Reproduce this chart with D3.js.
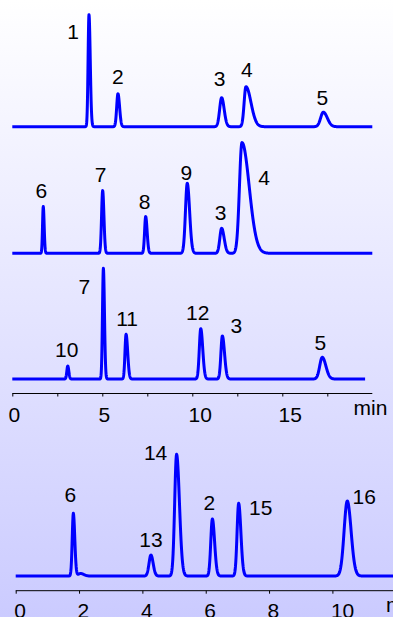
<!DOCTYPE html>
<html>
<head>
<meta charset="utf-8">
<script src="https://cdn.jsdelivr.net/npm/d3@7"></script>
<style>
  html, body { margin: 0; padding: 0; }
  body { width: 393px; height: 617px; overflow: hidden; }
  text { font-family: "Liberation Sans", Arial, sans-serif; fill: #000; }
</style>
</head>
<body>
<svg id="chart" width="393" height="617"></svg>
<script>
// peak tables: label, retention time (min), height (signal units), left/right width (min)
const peaks1Labels = ['1', '2', '3', '4', '5'];
const peaks1Times = [4.26, 5.87, 11.63, 12.98, 17.28];
const peaks1Heights = [112, 33, 29, 40, 14.5];
const peaks1WidthL = [0.05, 0.07, 0.11, 0.1, 0.15];
const peaks1WidthR = [0.07, 0.09, 0.14, 0.28, 0.22];

const peaks2Labels = ['6', '7', '8', '9', '3', '4'];
const peaks2Times = [1.72, 5.02, 7.41, 9.72, 11.63, 12.76];
const peaks2Heights = [46.7, 62.7, 36.7, 70, 25, 110.7];
const peaks2WidthL = [0.04, 0.06, 0.06, 0.1, 0.1, 0.14];
const peaks2WidthR = [0.05, 0.07, 0.08, 0.13, 0.14, 0.4];

const peaks3Labels = ['10', '7', '11', '12', '3', '5'];
const peaks3Times = [3.08, 5.06, 6.32, 10.47, 11.67, 17.22];
const peaks3Heights = [13, 110.7, 44.7, 50.3, 43, 21.7];
const peaks3WidthL = [0.05, 0.05, 0.06, 0.08, 0.08, 0.14];
const peaks3WidthR = [0.06, 0.06, 0.09, 0.11, 0.12, 0.2];

const peaks4Labels = ['6', '', '13', '14', '2', '15', '16'];
const peaks4Times = [1.82, 2.05, 4.27, 5.08, 6.21, 7.04, 10.47];
const peaks4Heights = [62.7, 2.5, 21, 121.7, 57, 72.7, 75];
const peaks4WidthL = [0.035, 0.08, 0.06, 0.06, 0.05, 0.05, 0.1];
const peaks4WidthR = [0.045, 0.1, 0.07, 0.09, 0.07, 0.07, 0.12];

const runEnd = [20, 20, 19.6, 12];           // length of each recorded trace (min)
const axisTop = { max: 20, ticks: [0, 2.5, 5, 7.5, 10, 12.5, 15, 17.5], labels: [0, 5, 10, 15] };
const axisBottom = { max: 12, ticks: [0, 2, 4, 6, 8, 10], labels: [0, 2, 4, 6, 8, 10] };

const svg = d3.select('#chart');

// background wash
const grad = svg.append('defs').append('linearGradient')
  .attr('id', 'bg').attr('x1', 0).attr('y1', 0).attr('x2', 0).attr('y2', 1);
grad.append('stop').attr('offset', 0).attr('stop-color', '#ffffff');
grad.append('stop').attr('offset', 1).attr('stop-color', '#cbcbff');
svg.append('rect').attr('width', 393).attr('height', 617).attr('fill', 'url(#bg)');

const xTop = d3.scaleLinear().domain([0, axisTop.max]).range([12.3, 372.3]);
const xBot = d3.scaleLinear().domain([0, 1]).range([15.7, 47.37]);

const buildPeaks = (labels, times, heights, wl, wr) => labels.map((label, i) => ({
  label, t: times[i], h: heights[i], sl: wl[i], sr: wr[i]
}));

const panels = [
  { peaks: buildPeaks(peaks1Labels, peaks1Times, peaks1Heights, peaks1WidthL, peaks1WidthR), x: xTop, base: 126.7, end: runEnd[0],
    offs: [[-16, 24], [0, -10], [-2, -12], [1, -10], [-1, -7]] },
  { peaks: buildPeaks(peaks2Labels, peaks2Times, peaks2Heights, peaks2WidthL, peaks2WidthR), x: xTop, base: 253.3, end: runEnd[1],
    offs: [[-2, -9], [-2, -9], [-1, -8], [-1, -3], [-1, -8], [22, 42]] },
  { peaks: buildPeaks(peaks3Labels, peaks3Times, peaks3Heights, peaks3WidthL, peaks3WidthR), x: xTop, base: 379, end: runEnd[2],
    offs: [[-1, -9], [-19, 26], [1, -8], [-3, -9], [14, -3.5], [-2, -7]] },
  { peaks: buildPeaks(peaks4Labels, peaks4Times, peaks4Heights, peaks4WidthL, peaks4WidthR), x: xBot, base: 576, end: runEnd[3],
    offs: [[-3, -11], [0, 0], [0, -8.5], [-21, 6], [-3, -9], [22, 12], [17, 3]] }
];

// detector signal built from the peak table (asymmetric gaussian per peak)
const signal = (peaks, t) => d3.sum(peaks, p => {
  const s = t < p.t ? p.sl : p.sr;
  return p.h * Math.exp(-0.5 * ((t - p.t) / s) ** 2);
});

panels.forEach(panel => {
  const y = d3.scaleLinear().domain([0, 120]).range([panel.base, panel.base - 120]);
  const ts = d3.range(0, panel.end + 0.001, 0.01);
  const line = d3.line()
    .x(t => panel.x(t))
    .y(t => y(signal(panel.peaks, t)));

  svg.append('path')
    .datum(ts)
    .attr('d', line)
    .attr('fill', 'none')
    .attr('stroke', '#0000ff')
    .attr('stroke-width', 3)
    .attr('stroke-linejoin', 'round');

  svg.append('g').selectAll('text')
    .data(panel.peaks.filter(p => p.label))
    .join('text')
    .attr('x', p => panel.x(p.t) + panel.offs[panel.peaks.indexOf(p)][0])
    .attr('y', p => y(p.h) + panel.offs[panel.peaks.indexOf(p)][1])
    .attr('text-anchor', 'middle')
    .attr('font-size', 21)
    .text(p => p.label);
});

function drawAxis(x, cfg, yPos, labelDx, labelY, minX) {
  const g = svg.append('g').attr('transform', `translate(0,${yPos})`);
  g.call(d3.axisBottom(x).tickValues(cfg.ticks).tickSize(3).tickSizeOuter(0).tickFormat(''));
  g.select('.domain').attr('d', `M${x(0)},0H${x(cfg.max)}`).attr('stroke', '#000');
  g.selectAll('.tick line').attr('stroke', '#000');

  const lg = svg.append('g').attr('transform', `translate(0,${yPos})`);
  lg.call(d3.axisBottom(x).tickValues(cfg.labels).tickSize(0).tickPadding(0).tickFormat(d3.format('d')));
  lg.select('.domain').remove();
  lg.selectAll('.tick text')
    .attr('font-family', '"Liberation Sans", Arial, sans-serif')
    .attr('font-size', 21)
    .attr('fill', '#000')
    .attr('text-anchor', 'start')
    .attr('dx', labelDx)
    .attr('dy', 0)
    .attr('y', labelY);

  svg.append('text')
    .attr('x', minX)
    .attr('y', yPos + 21.5)
    .attr('font-size', 21)
    .text('min');
}

drawAxis(xTop, axisTop, 393.5, -4.3, 28.5, 353.5);
drawAxis(xBot, axisBottom, 590.7, -2, 27, 386);
</script>
</body>
</html>
